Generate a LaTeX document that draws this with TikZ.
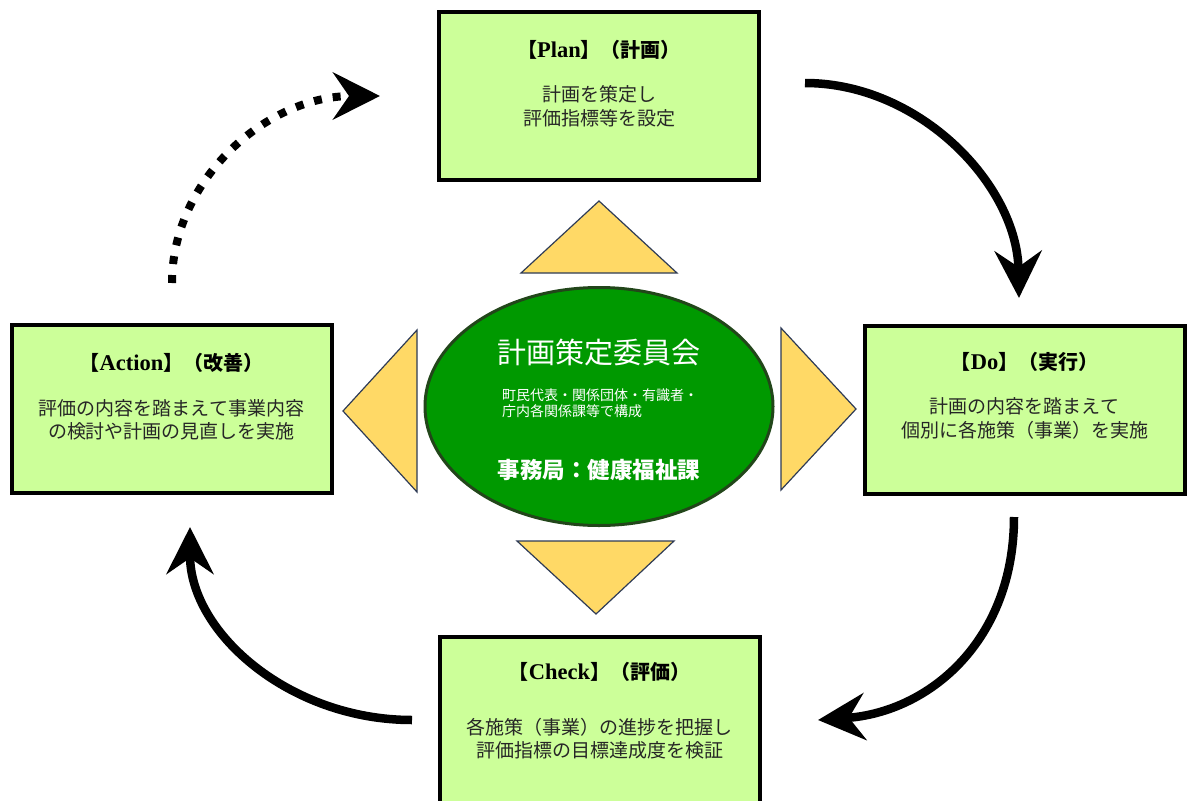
\documentclass[tikz,border=0pt]{standalone}
\usepackage{fontspec}
\setmainfont{Liberation Serif}
\newfontfamily\jp{Noto Sans CJK JP}
\usetikzlibrary{arrows.meta,shapes.geometric}
\definecolor{boxgreen}{HTML}{CCFF99}
\definecolor{councilgreen}{HTML}{009900}
\definecolor{councilrim}{HTML}{22461A}
\definecolor{triyellow}{HTML}{FFD966}
\definecolor{tririm}{HTML}{2E3B56}
\newcommand\phasehead[2]{{\jp\bfseries 【}{\bfseries\fontsize{22.5}{24}\selectfont #1}{\jp\bfseries 】（#2）}}

\begin{document}
\begin{tikzpicture}[x=1pt, y=-1pt,
  phase/.style={draw=black, line width=4pt, fill=boxgreen, minimum width=320pt, minimum height=168pt, inner sep=0pt},
  head/.style={font=\fontsize{20}{24}\selectfont, inner sep=0pt},
  body/.style={font=\jp\fontsize{19}{23.5}\selectfont, align=center, text=black!85, inner sep=0pt},
  tri/.style={draw=tririm, line width=1.2pt, fill=triyellow, line join=miter},
  turn/.style={line width=8.5pt, -{Stealth[length=47pt, width=47pt, inset=16pt]}},
  turndot/.style={turn, line width=8pt, dash pattern=on 8pt off 11pt}]
\useasboundingbox (0,0) rectangle (1187,801);
\node[phase] (plan) at (599,96) {};
\node[phase] (action) at (171.5,409) {};
\node[phase] (do) at (1024.5,409.5) {};
\node[phase] (check) at (599.5,721) {};
\node[head] (plan-head) at (599,50) {\phasehead{Plan}{計画}};
\node[body] (plan-body) at (599,106.5) {計画を策定し\\評価指標等を設定};
\node[head] (action-head) at (171.5,363) {\phasehead{Action}{改善}};
\node[body] (action-body) at (171.5,420) {評価の内容を踏まえて事業内容\\の検討や計画の見直しを実施};
\node[head] (do-head) at (1024.5,362) {\phasehead{Do}{実行}};
\node[body] (do-body) at (1024.5,418.5) {計画の内容を踏まえて\\個別に各施策（事業）を実施};
\node[head] (check-head) at (599.5,672) {\phasehead{Check}{評価}};
\node[body] (check-body) at (599.5,738.5) {各施策（事業）の進捗を把握し\\評価指標の目標達成度を検証};
\node[ellipse, draw=councilrim, line width=3pt, fill=councilgreen, minimum width=348pt, minimum height=238pt] (council) at (599,406.5) {};
\node[text=white, font=\jp\fontsize{29}{32}\selectfont, inner sep=0pt] (council-name) at (599,352) {計画策定委員会};
\node[text=white, font=\jp\fontsize{14}{16}\selectfont, align=left, inner sep=0pt] (council-members) at (600,403) {町民代表・関係団体・有識者・\\庁内各関係課等で構成};
\node[text=white, font=\jp\bfseries\fontsize{22.5}{26}\selectfont, inner sep=0pt] (council-office) at (599,470) {事務局：健康福祉課};
\draw[tri] (521,273) -- (599,201) -- (677,273) -- cycle;
\draw[tri] (517,541) -- (674,541) -- (596,614) -- cycle;
\draw[tri] (417,330) -- (343,411) -- (417,492) -- cycle;
\draw[tri] (781,328) -- (856,409) -- (781,490) -- cycle;
\coordinate (plan-out) at (805,83);
\coordinate (do-in) at (1019,298);
\coordinate (do-out) at (1014,517);
\coordinate (check-in) at (818,720);
\coordinate (check-out) at (412,720);
\coordinate (action-in) at (190,527);
\coordinate (action-out) at (172,283);
\coordinate (plan-in) at (380,96);
\draw[turn] (plan-out) .. controls (920,83) and (1017,185) .. (do-in);
\draw[turn] (do-out) .. controls (1014,640) and (930,712) .. (check-in);
\draw[turn] (check-out) .. controls (290,720) and (190,633) .. (action-in);
\draw[turndot] (action-out) .. controls (172,180) and (266,96) .. (plan-in);
\end{tikzpicture}
\end{document}
